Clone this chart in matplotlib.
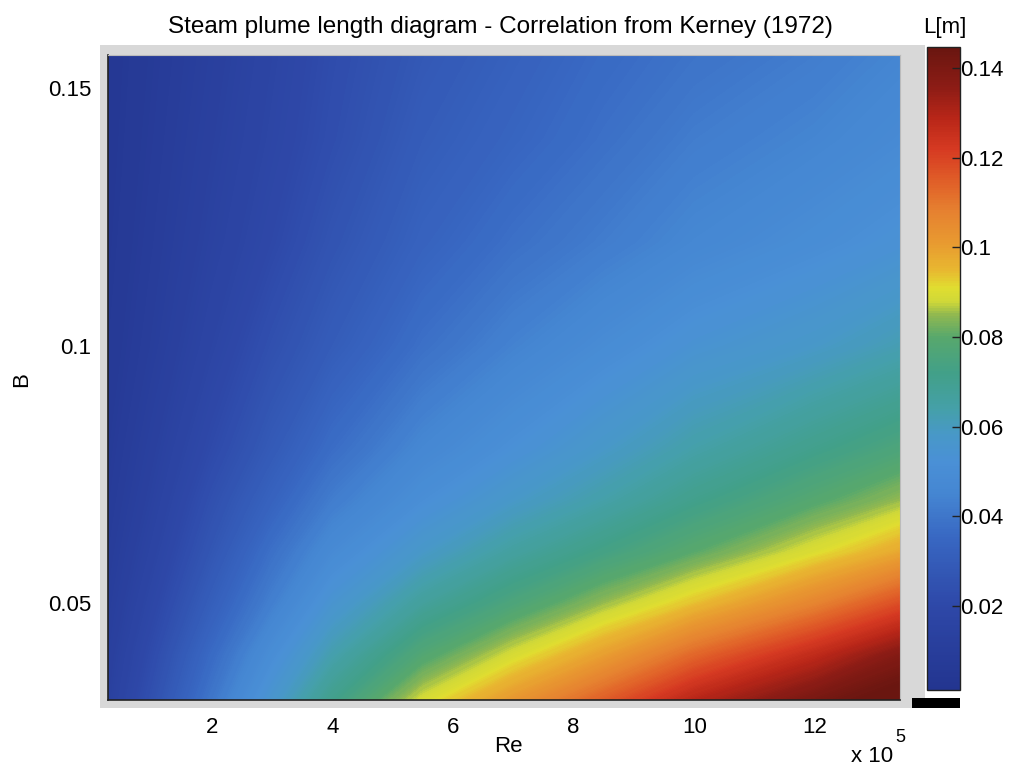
import numpy as np
import matplotlib
matplotlib.use("Agg")
import matplotlib.pyplot as plt
from matplotlib.colors import LinearSegmentedColormap, Normalize
from matplotlib.patches import Rectangle

plt.rcParams['font.family'] = ['Liberation Sans', 'DejaVu Sans']

# ---- data ----
re_1e5 = [0.28, 1.0, 2.0, 3.0, 4.0, 5.5, 7.0, 8.5, 10.0, 12.0, 13.41]   # Re / 1e5
b_vals = [0.0312, 0.04, 0.05, 0.06, 0.07, 0.08, 0.10, 0.12, 0.14, 0.1564]
# plume length L [m], one row per B value (bottom to top), one column per Re value
L_b0312 = [0.0130, 0.0240, 0.0400, 0.0560, 0.0710, 0.0890, 0.1020, 0.1150, 0.1290, 0.1410, 0.1480]
L_b040 = [0.0117, 0.0215, 0.0360, 0.0500, 0.0630, 0.0780, 0.0890, 0.1000, 0.1130, 0.1270, 0.1380]
L_b050 = [0.0101, 0.0185, 0.0310, 0.0430, 0.0550, 0.0670, 0.0760, 0.0850, 0.0940, 0.1070, 0.1180]
L_b060 = [0.0088, 0.0160, 0.0270, 0.0380, 0.0480, 0.0580, 0.0660, 0.0730, 0.0800, 0.0900, 0.0980]
L_b070 = [0.0077, 0.0140, 0.0240, 0.0330, 0.0420, 0.0510, 0.0580, 0.0640, 0.0710, 0.0790, 0.0850]
L_b080 = [0.0068, 0.0125, 0.0210, 0.0290, 0.0370, 0.0460, 0.0520, 0.0580, 0.0640, 0.0710, 0.0760]
L_b100 = [0.0055, 0.0100, 0.0170, 0.0240, 0.0300, 0.0380, 0.0440, 0.0490, 0.0540, 0.0580, 0.0620]
L_b120 = [0.0047, 0.0087, 0.0145, 0.0200, 0.0260, 0.0330, 0.0380, 0.0420, 0.0460, 0.0500, 0.0530]
L_b140 = [0.0042, 0.0078, 0.0130, 0.0180, 0.0230, 0.0300, 0.0340, 0.0380, 0.0420, 0.0450, 0.0480]
L_b156 = [0.0039, 0.0072, 0.0120, 0.0170, 0.0220, 0.0280, 0.0320, 0.0360, 0.0390, 0.0420, 0.0450]
L_rows = [L_b0312, L_b040, L_b050, L_b060, L_b070, L_b080, L_b100, L_b120, L_b140, L_b156]

x_ticks = [2, 4, 6, 8, 10, 12]
y_ticks = [0.05, 0.1, 0.15]
y_ticklabels = ['0.05', '0.1', '0.15']
cb_ticks = [0.02, 0.04, 0.06, 0.08, 0.10, 0.12, 0.14]
cb_ticklabels = ['0.02', '0.04', '0.06', '0.08', '0.1', '0.12', '0.14']
c_min, c_max = 0.00126, 0.1447

# ---- scanned-jet colormap ----
stops = [(0.001, '#233590'), (0.020, '#2e48a8'), (0.035, '#3867c2'), (0.045, '#4586d2'),
         (0.052, '#4a90d6'), (0.058, '#4898c8'), (0.064, '#45a0a8'), (0.072, '#42a088'),
         (0.080, '#58a86c'), (0.085, '#90b850'), (0.088, '#d0d838'), (0.091, '#e0de30'),
         (0.095, '#e8b830'), (0.101, '#e89a30'), (0.108, '#e68230'), (0.115, '#e05e28'),
         (0.122, '#d63a22'), (0.129, '#b82618'), (0.136, '#8c1c15'), (0.1447, '#6a1610')]
pos = [(v - c_min) / (c_max - c_min) for v, _ in stops]
pos[0] = 0.0
pos[-1] = 1.0
cmap = LinearSegmentedColormap.from_list('scanjet', list(zip(pos, [c for _, c in stops])))
norm = Normalize(vmin=c_min, vmax=c_max)

W, H = 1012, 771
fig = plt.figure(figsize=(W / 100, H / 100), dpi=100)
fig.patch.set_facecolor('white')

def fx(px):
    return px / W

def fy(py):
    return 1 - py / H

# gray frame behind the axes
fig.patches.append(Rectangle((fx(100), fy(708)), fx(925) - fx(100), fy(45) - fy(708),
                             transform=fig.transFigure, facecolor='#d8d8d8',
                             edgecolor='none', zorder=-5))
# black bar under colorbar
fig.patches.append(Rectangle((fx(912), fy(708)), fx(960) - fx(912), fy(698) - fy(708),
                             transform=fig.transFigure, facecolor='black',
                             edgecolor='none', zorder=-4))

ax = fig.add_axes([fx(108), fy(700), fx(900) - fx(108), fy(55) - fy(700)])
ax.set_zorder(2)
Z = np.array(L_rows)
levels = np.linspace(c_min, c_max, 300)
cs = ax.contourf(np.array(re_1e5), np.array(b_vals), Z, levels=levels,
                 cmap=cmap, norm=norm, extend='both', antialiased=False)
ax.set_xlim(re_1e5[0], re_1e5[-1])
ax.set_ylim(b_vals[0], b_vals[-1])
ax.set_xticks(x_ticks)
ax.set_xticklabels([str(t) for t in x_ticks])
ax.set_yticks(y_ticks)
ax.set_yticklabels(y_ticklabels)
ax.tick_params(axis='both', length=0, labelsize=16)
ax.tick_params(axis='x', pad=12)
ax.tick_params(axis='y', pad=12)
for s in ['left', 'bottom']:
    ax.spines[s].set_color('#222222')
    ax.spines[s].set_linewidth(1.2)
for s in ['top', 'right']:
    ax.spines[s].set_color('#bbbbbb')
    ax.spines[s].set_linewidth(0.8)

fig.text(fx(500), fy(27), 'Steam plume length diagram - Correlation from Kerney (1972)',
         ha='center', va='center', fontsize=17.5)
fig.text(fx(508), fy(747), 'Re', ha='center', va='center', fontsize=16)
fig.text(fx(22), fy(380), 'B', ha='center', va='center', fontsize=16, rotation=90)
fig.text(fx(872), fy(757), r'x 10', ha='center', va='center', fontsize=16)
fig.text(fx(900), fy(737), '5', ha='center', va='center', fontsize=13)

cax = fig.add_axes([fx(927), fy(690), fx(960) - fx(927), fy(47) - fy(690)])
cax.set_zorder(2)
sm = plt.cm.ScalarMappable(norm=norm, cmap=cmap)
cb = fig.colorbar(sm, cax=cax)
cb.set_ticks(cb_ticks)
cb.set_ticklabels(cb_ticklabels)
cax.tick_params(direction='in', length=6, width=1, labelsize=16, pad=0, color='#222222')
cb.outline.set_edgecolor('#222222')
cb.outline.set_linewidth(1.0)
fig.text(fx(945), fy(27), 'L[m]', ha='center', va='center', fontsize=16)

fig.savefig('out.png', dpi=100)
